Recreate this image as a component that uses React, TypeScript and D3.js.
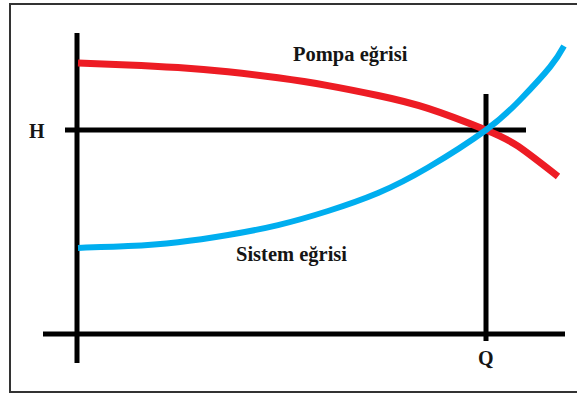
import React from "react";
import * as d3 from "d3";

const pumpQ = [0, 10, 20, 30, 40, 50, 60, 70, 81.6, 88, 96];
const pumpH = [90.3, 89.7, 88.8, 87.4, 85.4, 82.8, 79.5, 75.2, 68, 62.6, 52.5];
const systemQ = [0, 10, 20, 30, 40, 50, 60, 70, 81.6, 88.4, 94.4, 97.2];
const systemH = [28.7, 29.3, 30.6, 33, 36.3, 41, 47, 55.5, 68, 78, 89, 96];
const operatingQ = 81.6;
const operatingH = 68;
const labels = { pump: "Pompa eğrisi", system: "Sistem eğrisi", h: "H", q: "Q" };

const W = 577;
const H = 396;

export default function App() {
  const x = d3.scaleLinear().domain([0, 100]).range([78, 578]);
  const y = d3.scaleLinear().domain([0, 100]).range([334, 34]);
  const line = d3
    .line<[number, number]>()
    .x((d) => x(d[0]))
    .y((d) => y(d[1]))
    .curve(d3.curveNatural);
  const pump = line(pumpQ.map((q, i) => [q, pumpH[i]] as [number, number])) || "";
  const sys = line(systemQ.map((q, i) => [q, systemH[i]] as [number, number])) || "";
  const font = "'Liberation Serif', 'Times New Roman', serif";
  const txt = "#151515";
  return (
    <svg
      width={W}
      height={H}
      style={{ position: "absolute", left: 0, top: 0, background: "#fff" }}
    >
      <rect x={10} y={4} width={600} height={388} fill="none" stroke="#333" strokeWidth={2} />
      {/* axes */}
      <line x1={x(-0.2)} x2={x(-0.2)} y1={y(100.3)} y2={y(-9.7)} stroke="#000" strokeWidth={5} />
      <line x1={x(-7)} x2={x(97.4)} y1={y(0)} y2={y(0)} stroke="#000" strokeWidth={5} />
      {/* operating point guides */}
      <line x1={x(-2.6)} x2={x(89.6)} y1={y(operatingH)} y2={y(operatingH)} stroke="#000" strokeWidth={5} />
      <line x1={x(operatingQ)} x2={x(operatingQ)} y1={y(80)} y2={y(-2.3)} stroke="#000" strokeWidth={5} />
      {/* curves */}
      <path d={pump} fill="none" stroke="#ED1C24" strokeWidth={7} />
      <path d={sys} fill="none" stroke="#00AEEF" strokeWidth={6} />
      <text x={293} y={61} fontFamily={font} fontWeight="bold" fontSize={20.5} fill={txt}>
        {labels.pump}
      </text>
      <text x={236} y={261} fontFamily={font} fontWeight="bold" fontSize={20.5} fill={txt}>
        {labels.system}
      </text>
      <text x={29} y={138} fontFamily={font} fontWeight="bold" fontSize={20} fill={txt}>
        {labels.h}
      </text>
      <text x={478} y={365} fontFamily={font} fontWeight="bold" fontSize={20} fill={txt}>
        {labels.q}
      </text>
    </svg>
  );
}
